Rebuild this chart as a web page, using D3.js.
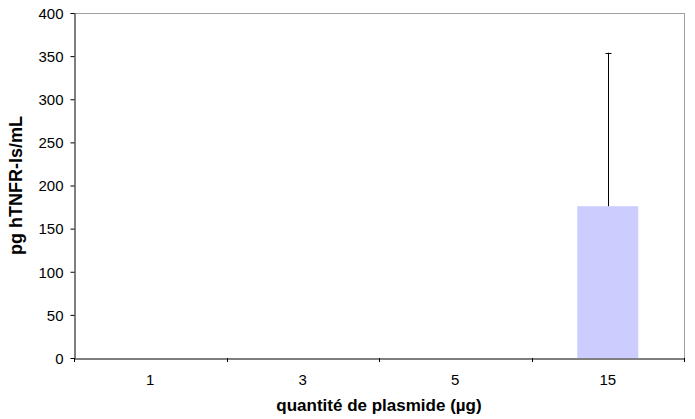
<!DOCTYPE html>
<html><head><meta charset="utf-8">
<script src="https://cdn.jsdelivr.net/npm/d3@7"></script>
<style>body{margin:0;background:#fff}svg{display:block}text{font-family:"Liberation Sans",Arial,sans-serif}</style>
</head><body>
<script>
const categories = ["1","3","5","15"];
const values = [0,0,0,176];
const errors = [0,0,0,178];
const yTicks = [0,50,100,150,200,250,300,350,400];

const W=695,H=419, m={l:74,r:11,t:13,b:61};
const svg=d3.select("body").append("svg").attr("width",W).attr("height",H);
const x=d3.scaleBand().domain(categories).range([m.l,W-m.r]);
const y=d3.scaleLinear().domain([0,400]).range([H-m.b,m.t]);

// plot border top/right
svg.append("line").attr("x1",m.l).attr("x2",W-m.r).attr("y1",m.t+0.5).attr("y2",m.t+0.5).attr("stroke","#a0a0a0");
svg.append("line").attr("x1",W-m.r+0.5).attr("x2",W-m.r+0.5).attr("y1",m.t).attr("y2",H-m.b).attr("stroke","#a0a0a0");

const bw=x.bandwidth()*0.4;
svg.selectAll("rect.bar").data(categories).enter().append("rect").attr("class","bar")
 .attr("x",d=>x(d)+x.bandwidth()/2-bw/2).attr("width",bw)
 .attr("y",(d,i)=>y(values[i])).attr("height",(d,i)=>y(0)-y(values[i]))
 .attr("fill","#ccccff");

const eg=svg.append("g");
categories.forEach((c,i)=>{
  if(errors[i]<=0) return;
  const cx=Math.round(x(c)+x.bandwidth()/2)+0.5;
  eg.append("line").attr("x1",cx).attr("x2",cx).attr("y1",y(values[i])).attr("y2",y(values[i]+errors[i])).attr("stroke","#000");
  eg.append("line").attr("x1",cx-3).attr("x2",cx+3).attr("y1",Math.round(y(values[i]+errors[i]))+0.5).attr("y2",Math.round(y(values[i]+errors[i]))+0.5).attr("stroke","#000");
});

// y axis
const ya=svg.append("g").attr("transform",`translate(${m.l+0.5},0)`)
 .call(d3.axisLeft(y).tickValues(yTicks).tickSize(4).tickSizeOuter(0));
ya.select(".domain").attr("stroke","#000");
ya.selectAll("text").attr("font-size",15).attr("fill","#000").attr("dx",-4).attr("dy","0.35em");

// x axis
const xa=svg.append("g").attr("transform",`translate(0,${H-m.b+0.5})`)
 .call(d3.axisBottom(x).tickSize(0).tickSizeOuter(0));
xa.select(".domain").attr("stroke","#000");
xa.selectAll("text").attr("font-size",15).attr("fill","#000").attr("y",0).attr("dy","1.76em");
const bounds=[...categories.map(c=>x(c)), W-m.r];
svg.append("g").selectAll("line").data(bounds).enter().append("line")
 .attr("x1",d=>Math.round(d)+0.5).attr("x2",d=>Math.round(d)+0.5)
 .attr("y1",H-m.b).attr("y2",H-m.b+4).attr("stroke","#000");

svg.append("text").attr("x",(m.l+W-m.r)/2).attr("y",411).attr("text-anchor","middle")
 .attr("font-size",17).attr("font-weight","bold").text("quantité de plasmide (µg)");
svg.append("text").attr("transform",`translate(22,${(m.t+H-m.b)/2}) rotate(-90)`).attr("text-anchor","middle")
 .attr("font-size",18).attr("font-weight","bold").text("pg hTNFR-Is/mL");
</script>
</body></html>
